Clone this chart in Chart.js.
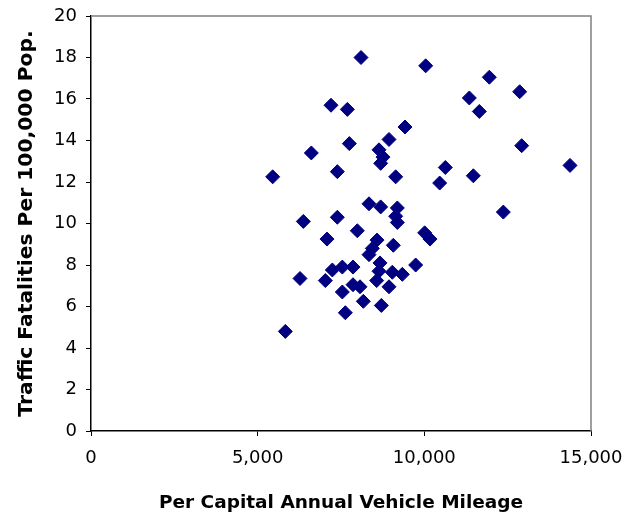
<!DOCTYPE html>
<html><head><meta charset="utf-8">
<script src="https://cdn.jsdelivr.net/npm/chart.js@4/dist/chart.umd.min.js"></script>
<style>html,body{margin:0;padding:0;background:#fff;}#wrap{width:625px;height:523px;}</style>
</head><body><div id="wrap"><canvas id="c" width="625" height="523"></canvas></div>
<script>
const mileage = [8100,10040,11950,12860,11350,7200,7690,11650,9420,8940,7750,12920,6610,8640,8760,8690,10630,14370,7390,5450,9140,11470,10460,8340,8690,9190,9140,9190,6370,7390,12370,10010,10170,7990,7080,8580,9070,8440,8340,8670,8640,8570,9740,9040,9340,7240,7540,7860,6270,7030,7540,7860,8070,8940,8170,8710,7630,5830];
const fatalities = [18.0,17.6,17.05,16.35,16.05,15.7,15.5,15.4,14.65,14.05,13.85,13.75,13.4,13.55,13.2,12.9,12.7,12.8,12.5,12.25,12.25,12.3,11.95,10.95,10.8,10.75,10.35,10.05,10.1,10.3,10.55,9.55,9.25,9.65,9.25,9.2,8.95,8.8,8.5,8.1,7.7,7.25,8.0,7.65,7.55,7.76,7.9,7.9,7.35,7.25,6.7,7.05,6.95,6.95,6.25,6.05,5.7,4.8];
const xTicks = [0,5000,10000,15000];
const yTicks = [0,2,4,6,8,10,12,14,16,18,20];
const xTitle = 'Per Capital Annual Vehicle Mileage';
const yTitle = 'Traffic Fatalities Per 100,000 Pop.';

const points = mileage.map((m,i)=>({x:m,y:fatalities[i]}));
const frame = {
  id:'frame',
  afterDraw(chart){
    const a = chart.chartArea, ctx = chart.ctx;
    ctx.save();
    ctx.strokeStyle = '#808080'; ctx.lineWidth = 1.5;
    ctx.beginPath();
    ctx.moveTo(a.left, a.top); ctx.lineTo(a.right, a.top); ctx.lineTo(a.right, a.bottom);
    ctx.stroke();
    ctx.restore();
  }
};
const tickFont = {family:'DejaVu Sans', size:18};
new Chart(document.getElementById('c'), {
  type:'scatter',
  data:{datasets:[{data:points, pointStyle:'rectRot', pointRadius:7, pointHoverRadius:7,
    backgroundColor:'#000080', borderColor:'#000080', borderWidth:1}]},
  options:{
    responsive:false, animation:false,
    layout:{padding:{top:16,right:34,left:0,bottom:0}},
    plugins:{legend:{display:false}, tooltip:{enabled:false}},
    scales:{
      x:{type:'linear', min:0, max:15000,
        afterBuildTicks(s){ s.ticks = xTicks.map(v=>({value:v})); },
        afterFit(s){ s.height = 92; s.paddingLeft = 0; s.paddingRight = 0; },
        grid:{display:true, drawOnChartArea:false, drawTicks:true, tickLength:5, color:'#000'},
        border:{display:true, color:'#000', width:1.5},
        ticks:{color:'#000', font:tickFont, padding:12, maxRotation:0,
          callback:v=>v.toLocaleString('en-US')},
        title:{display:true, text:xTitle, color:'#000', font:{family:'DejaVu Sans', size:18.5, weight:'bold'}, padding:{top:4, bottom:9}}
      },
      y:{type:'linear', min:0, max:20,
        afterBuildTicks(s){ s.ticks = yTicks.map(v=>({value:v})); },
        afterFit(s){ s.width = 91; s.paddingTop = 0; s.paddingBottom = 0; },
        grid:{display:true, drawOnChartArea:false, drawTicks:true, tickLength:5, color:'#000'},
        border:{display:true, color:'#000', width:1.5},
        ticks:{color:'#000', font:tickFont, padding:9},
        title:{display:true, text:yTitle, color:'#000', font:{family:'DejaVu Sans', size:20.3, weight:'bold'}, padding:{top:15, bottom:4}}
      }
    }
  },
  plugins:[frame]
});
</script></body></html>
